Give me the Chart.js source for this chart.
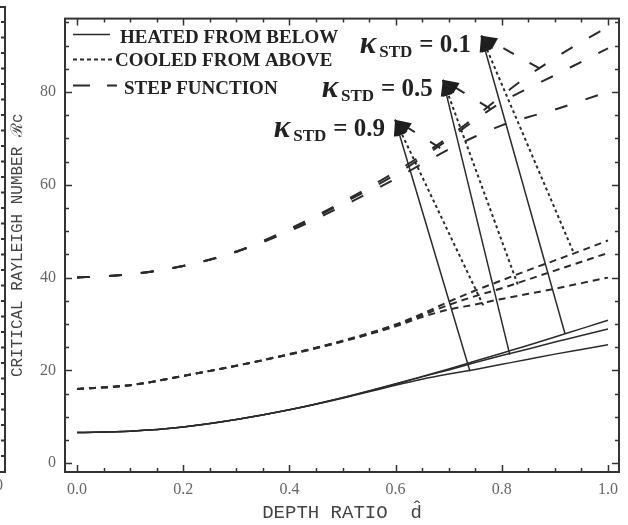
<!DOCTYPE html>
<html>
<head>
<meta charset="utf-8">
<title>Critical Rayleigh number vs depth ratio</title>
<script src="https://cdn.jsdelivr.net/npm/chart.js@4.4.1/dist/chart.umd.min.js"></script>
<style>
  html, body { margin: 0; padding: 0; background: #fff; }
</style>
</head>
<body>
<canvas id="myChart" width="628" height="525"></canvas>
<script>
'use strict'

// Data

let depthRatio = [0, 0.1, 0.2, 0.3, 0.4, 0.5, 0.6, 0.65, 0.7, 0.75, 0.8, 0.85, 0.9, 0.95, 1.0];

// heated from below, kappa 0.1 / 0.5 / 0.9
let heatedK1 = [6.6, 6.9, 7.8, 9.4, 11.5, 14.1, 17.1, 18.7, 20.3, 22.0, 23.7, 25.4, 27.2, 29.0, 30.8];
let heatedK5 = [6.6, 6.9, 7.8, 9.4, 11.5, 14.1, 17.0, 18.6, 20.1, 21.7, 23.2, 24.6, 26.1, 27.5, 28.9];
let heatedK9 = [6.6, 6.9, 7.8, 9.4, 11.5, 14.0, 16.8, 18.1, 19.2, 20.2, 21.3, 22.4, 23.5, 24.5, 25.5];

// cooled from above
let cooledK1 = [16, 16.8, 18.8, 21.0, 23.5, 26.4, 29.9, 32.2, 34.8, 37.2, 39.4, 41.6, 43.7, 45.8, 48.0];
let cooledK5 = [16, 16.8, 18.8, 21.0, 23.5, 26.3, 29.7, 31.9, 34.1, 36.0, 37.7, 39.6, 41.5, 43.4, 45.3];
let cooledK9 = [16, 16.8, 18.8, 21.0, 23.4, 26.2, 29.5, 31.5, 33.1, 34.2, 35.4, 36.5, 37.6, 38.8, 40.0];

// step function
let stepK1 = [40, 40.7, 42.5, 45.6, 50.5, 56.3, 62.8, 66.4, 70.3, 74.6, 79.2, 83.5, 87.3, 90.8, 94.0];
let stepK5 = [40, 40.7, 42.5, 45.6, 50.3, 56.0, 62.2, 65.9, 69.8, 74.0, 77.8, 80.8, 83.6, 86.5, 89.4];
let stepK9 = [40, 40.7, 42.5, 45.5, 50.0, 55.4, 61.3, 64.5, 67.6, 70.4, 72.8, 74.6, 76.2, 78.1, 80.0];

// arrows: tip near the label, tails on the curves (x, y)
let kappaLabels = ['0.1', '0.5', '0.9'];
let arrowTips = [[0.761, 92.1], [0.689, 82.6], [0.599, 74.0]];
let heatedTails = [[0.919, 27.9], [0.815, 23.4], [0.740, 19.8]];
let cooledTails = [[0.934, 45.7], [0.830, 38.5], [0.765, 34.0]];
let stepTails = [[0.872, 85.0], [0.778, 76.4], [0.684, 67.9]];

let legendNames = ['HEATED FROM BELOW', 'COOLED FROM ABOVE', 'STEP FUNCTION'];

let xTicks = [0, 0.2, 0.4, 0.6, 0.8, 1.0];
let yTicks = [0, 20, 40, 60, 80];

// Styles

let ink = '#2b2b2b';
let solidStyle = { borderWidth: 1.5, borderDash: [] };
let dottedStyle = { borderWidth: 2, borderDash: [7, 5] };
let stepStyle = { borderWidth: 2, borderDash: [13, 19] };

function curve(values, style) {
  return Object.assign({
    data: depthRatio.map((d, i) => ({ x: d, y: values[i] })),
    borderColor: ink,
    pointRadius: 0,
    fill: false,
    cubicInterpolationMode: 'monotone'
  }, style);
}

function arrow(tail, tip, style) {
  return Object.assign({
    data: [{ x: tail[0], y: tail[1] }, { x: tip[0], y: tip[1] }],
    borderColor: ink,
    pointRadius: 0,
    fill: false,
    arrow: true
  }, style);
}

let datasets = [
  curve(heatedK1, solidStyle), curve(heatedK5, solidStyle), curve(heatedK9, solidStyle),
  curve(cooledK1, dottedStyle), curve(cooledK5, dottedStyle), curve(cooledK9, dottedStyle),
  curve(stepK1, stepStyle), curve(stepK5, stepStyle), curve(stepK9, stepStyle)
];

for (let i = 0; i < arrowTips.length; i++) {
  datasets.push(arrow(heatedTails[i], arrowTips[i], { borderWidth: 1.5 }));
  datasets.push(arrow(cooledTails[i], arrowTips[i], { borderWidth: 2, borderDash: [3, 3] }));
  datasets.push(arrow(stepTails[i], arrowTips[i], { borderWidth: 2, borderDash: [12, 18] }));
}

// Plugins

// box round the plot with inward ticks on all four sides
const framePlugin = {
  id: 'frame',
  afterDatasetsDraw(chart) {
    const ctx = chart.ctx;
    const a = chart.chartArea;
    const xs = chart.scales.x;
    const ys = chart.scales.y;
    ctx.save();
    ctx.strokeStyle = '#333';
    ctx.lineWidth = 1.5;
    for (let v = 0; v <= 1.0001; v += 0.05) {
      let major = xTicks.some(t => Math.abs(t - v) < 1e-6);
      let len = major ? 7 : 4;
      let px = Math.round(xs.getPixelForValue(v)) + 0.5;
      ctx.beginPath();
      ctx.moveTo(px, a.bottom); ctx.lineTo(px, a.bottom - len);
      ctx.moveTo(px, a.top); ctx.lineTo(px, a.top + len);
      ctx.stroke();
    }
    for (let v = 0; v <= 95; v += 5) {
      let major = yTicks.includes(v);
      let len = major ? 7 : 4;
      let py = Math.round(ys.getPixelForValue(v)) + 0.5;
      ctx.beginPath();
      ctx.moveTo(a.left, py); ctx.lineTo(a.left + len, py);
      ctx.moveTo(a.right, py); ctx.lineTo(a.right - len, py);
      ctx.stroke();
    }
    ctx.lineWidth = 2;
    ctx.strokeRect(a.left, a.top, a.right - a.left, a.bottom - a.top);

    // edge of the neighbouring panel, cut off at the left
    ctx.beginPath();
    ctx.moveTo(-2, 7); ctx.lineTo(5, 7); ctx.lineTo(5, a.bottom); ctx.lineTo(-2, a.bottom);
    for (let py = a.bottom - 16; py > 10; py -= 15.5) {
      ctx.moveTo(5, py); ctx.lineTo(1, py);
    }
    ctx.stroke();
    ctx.fillStyle = '#666';
    ctx.font = '16px "Liberation Serif"';
    ctx.textBaseline = 'top';
    ctx.fillText('0', -5, a.bottom + 6);
    ctx.restore();
  }
};

// filled arrowheads at the tip end of each arrow dataset
const arrowHeadPlugin = {
  id: 'arrowHeads',
  afterDatasetsDraw(chart) {
    const ctx = chart.ctx;
    ctx.save();
    ctx.fillStyle = '#1e1e1e';
    chart.data.datasets.forEach((ds, i) => {
      if (!ds.arrow) return;
      const pts = chart.getDatasetMeta(i).data;
      const p0 = pts[0], p1 = pts[1];
      const ang = Math.atan2(p1.y - p0.y, p1.x - p0.x);
      const len = 16, half = 6;
      ctx.beginPath();
      ctx.moveTo(p1.x, p1.y);
      ctx.lineTo(p1.x - len * Math.cos(ang) + half * Math.sin(ang), p1.y - len * Math.sin(ang) - half * Math.cos(ang));
      ctx.lineTo(p1.x - len * Math.cos(ang) - half * Math.sin(ang), p1.y - len * Math.sin(ang) + half * Math.cos(ang));
      ctx.closePath();
      ctx.fill();
    });
    ctx.restore();
  }
};

// legend in the top left corner and the kappa labels
const textPlugin = {
  id: 'texts',
  afterDraw(chart) {
    const ctx = chart.ctx;
    const a = chart.chartArea;
    ctx.save();
    ctx.strokeStyle = ink;
    ctx.fillStyle = '#222';
    ctx.textBaseline = 'alphabetic';

    let samples = [
      { y: 16, dash: [], w: 1.5, end: 45 },
      { y: 41, dash: [4, 3], w: 2, end: 48 },
      { y: 67, dash: [17, 17], w: 2, end: 52 }
    ];
    let textX = [55, 50, 59];
    let textY = [24, 47, 75];
    ctx.font = 'bold 19px "Liberation Serif"';
    for (let i = 0; i < legendNames.length; i++) {
      let s = samples[i];
      ctx.lineWidth = s.w;
      ctx.setLineDash(s.dash);
      ctx.beginPath();
      ctx.moveTo(a.left + 8, a.top + s.y);
      ctx.lineTo(a.left + s.end, a.top + s.y);
      ctx.stroke();
      ctx.fillText(legendNames[i], a.left + textX[i], a.top + textY[i]);
    }
    ctx.setLineDash([]);

    const xs = chart.scales.x;
    const ys = chart.scales.y;
    for (let i = 0; i < kappaLabels.length; i++) {
      let tx = xs.getPixelForValue(arrowTips[i][0]);
      let ty = ys.getPixelForValue(arrowTips[i][1]);
      let base = ty + 16;
      let tail = '= ' + kappaLabels[i];
      ctx.font = 'bold 25px "Liberation Serif"';
      let wTail = ctx.measureText(tail).width;
      ctx.font = 'bold 17px "Liberation Serif"';
      let wSub = ctx.measureText('STD').width;
      ctx.font = 'bold italic 31px "Liberation Serif"';
      let wK = ctx.measureText('κ').width;
      let x = tx - 10 - wTail - 7 - wSub - wK - 3;
      ctx.fillText('κ', x, base + 1);
      x += wK + 3;
      ctx.font = 'bold 17px "Liberation Serif"';
      ctx.fillText('STD', x, base + 5);
      x += wSub + 7;
      ctx.font = 'bold 25px "Liberation Serif"';
      ctx.fillText(tail, x, base);
    }
    ctx.restore();
  }
};

// Chart

const config = {
  type: 'line',
  data: { datasets: datasets },
  options: {
    responsive: false,
    animation: false,
    events: [],
    layout: { padding: { left: 0, top: 12, right: 9, bottom: 0 } },
    plugins: {
      legend: { display: false },
      tooltip: { enabled: false }
    },
    scales: {
      x: {
        type: 'linear',
        min: -0.0226,
        max: 1.0207,
        grid: { display: false, drawTicks: false },
        border: { display: false },
        afterBuildTicks: (scale) => { scale.ticks = xTicks.map(v => ({ value: v })); },
        afterFit: (scale) => { scale.height = 53; },
        ticks: {
          padding: 8,
          color: '#666',
          font: { family: 'Liberation Serif', size: 16 },
          callback: (v) => v.toFixed(1)
        },
        title: {
          display: true,
          text: 'DEPTH RATIO  d\u0302',
          color: '#444',
          font: { family: 'Liberation Mono', size: 19 },
          padding: { top: 0, bottom: 1 }
        }
      },
      y: {
        type: 'linear',
        min: -1.9,
        max: 95.8,
        grid: { display: false, drawTicks: false },
        border: { display: false },
        afterBuildTicks: (scale) => { scale.ticks = yTicks.map(v => ({ value: v })); },
        afterFit: (scale) => { scale.width = 65; },
        ticks: {
          padding: 9,
          color: '#666',
          font: { family: 'Liberation Serif', size: 16 },
          callback: (v) => String(v)
        },
        title: {
          display: true,
          text: 'CRITICAL RAYLEIGH NUMBER \u211Bc',
          color: '#444',
          font: { family: 'Liberation Mono', size: 16 },
          padding: { top: 8, bottom: 0 }
        }
      }
    }
  },
  plugins: [framePlugin, arrowHeadPlugin, textPlugin]
};

const myChart = new Chart(document.getElementById('myChart'), config);
</script>
</body>
</html>
